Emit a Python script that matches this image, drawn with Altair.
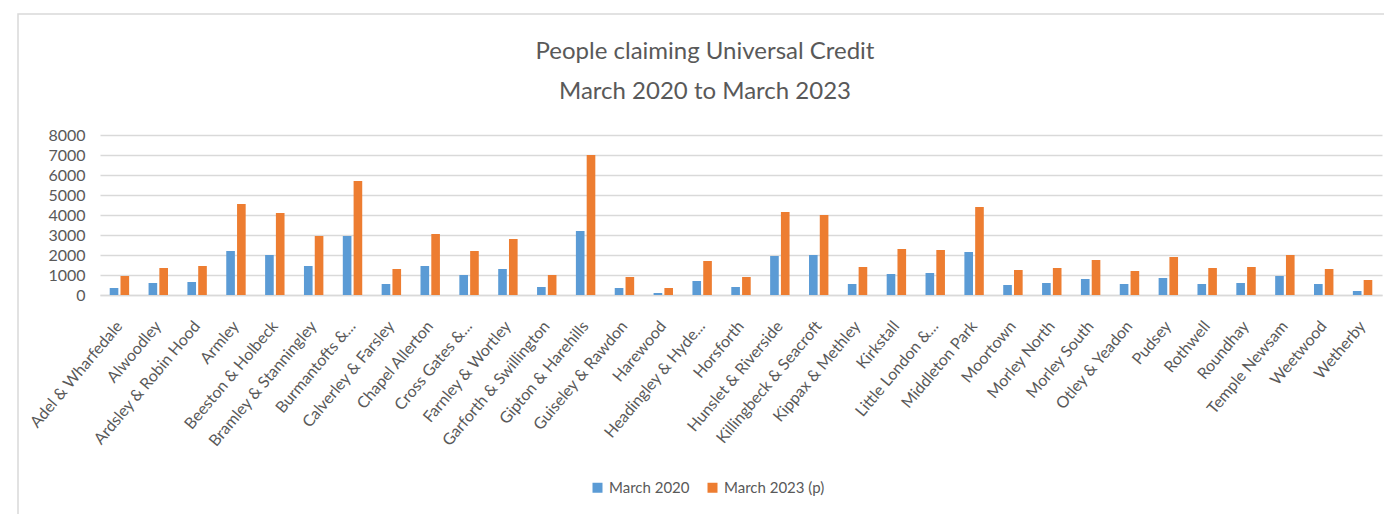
import altair as alt
import pandas as pd

wards = ["Adel & Wharfedale", "Alwoodley", "Ardsley & Robin Hood", "Armley", "Beeston & Holbeck",
         "Bramley & Stanningley", "Burmantofts &...", "Calverley & Farsley", "Chapel Allerton",
         "Cross Gates &...", "Farnley & Wortley", "Garforth & Swillington", "Gipton & Harehills",
         "Guiseley & Rawdon", "Harewood", "Headingley & Hyde...", "Horsforth", "Hunslet & Riverside",
         "Killingbeck & Seacroft", "Kippax & Methley", "Kirkstall", "Little London &...",
         "Middleton Park", "Moortown", "Morley North", "Morley South", "Otley & Yeadon", "Pudsey",
         "Rothwell", "Roundhay", "Temple Newsam", "Weetwood", "Wetherby"]
march_2020 = [350, 600, 650, 2200, 2000, 1450, 2950, 550, 1450, 1000, 1300, 400, 3200, 350, 100,
              700, 400, 1950, 2000, 550, 1050, 1100, 2150, 500, 600, 800, 550, 850, 550, 600, 950, 550, 200]
march_2023 = [950, 1350, 1450, 4550, 4100, 2950, 5700, 1300, 3050, 2200, 2800, 1000, 7000, 900, 350,
              1700, 900, 4150, 4000, 1400, 2300, 2250, 4400, 1250, 1350, 1750, 1200, 1900, 1350, 1400, 2000, 1300, 750]
series = ["March 2020", "March 2023 (p)"]

rows = []
for w, a, b in zip(wards, march_2020, march_2023):
    rows.append({"ward": w, "series": series[0], "value": a})
    rows.append({"ward": w, "series": series[1], "value": b})
df = pd.DataFrame(rows)

FONT = "Lato"
GREY = "#595959"

bars = alt.Chart(df).mark_bar().encode(
    x=alt.X("ward:N", sort=wards, title=None,
            scale=alt.Scale(paddingInner=0.5, paddingOuter=0.25),
            axis=alt.Axis(labelAngle=-50, labelAlign="right", labelBaseline="middle",
                          labelFontSize=16, labelColor=GREY, labelFont=FONT, ticks=False,
                          domainColor="#d9d9d9", domainWidth=1.5, labelPadding=28, labelLimit=300)),
    xOffset=alt.XOffset("series:N", sort=series, scale=alt.Scale(paddingInner=0.2)),
    y=alt.Y("value:Q", title=None,
            scale=alt.Scale(domain=[0, 8000]),
            axis=alt.Axis(values=list(range(0, 8001, 1000)), format="d", labelFontSize=16,
                          labelColor=GREY, labelFont=FONT, ticks=False, domain=False,
                          gridColor="#d9d9d9", gridWidth=1.5, labelPadding=15)),
    color=alt.Color("series:N", sort=series,
                    scale=alt.Scale(domain=series, range=["#5B9BD5", "#ED7D31"]),
                    legend=alt.Legend(title=None, orient="none", legendX=490, legendY=345,
                                      direction="horizontal", symbolType="square", symbolSize=100,
                                      labelFontSize=15, labelColor=GREY, labelFont=FONT,
                                      columnPadding=15, symbolStrokeWidth=0)),
)

frame = alt.Chart(alt.Data(values=[{}])).mark_rect(
    fillOpacity=0, stroke="#d9d9d9", strokeWidth=1.5
).encode(x=alt.value(-82), x2=alt.value(1300), y=alt.value(-121), y2=alt.value(390))

chart = alt.layer(frame, bars).properties(
    width=1282, height=160,
    autosize=alt.AutoSizeParams(type="none"),
    padding={"left": 92, "top": 127, "right": 2, "bottom": 219},
    title=alt.TitleParams(text=["People claiming Universal Credit", "March 2020 to March 2023"],
                          fontSize=24, lineHeight=40, color=GREY, font=FONT, fontWeight="normal",
                          anchor="middle", frame="group", baseline="top", dx=-36, offset=-91),
).configure_view(stroke=None)

chart.save("out.html", embed_options={"renderer": "svg", "actions": False})
